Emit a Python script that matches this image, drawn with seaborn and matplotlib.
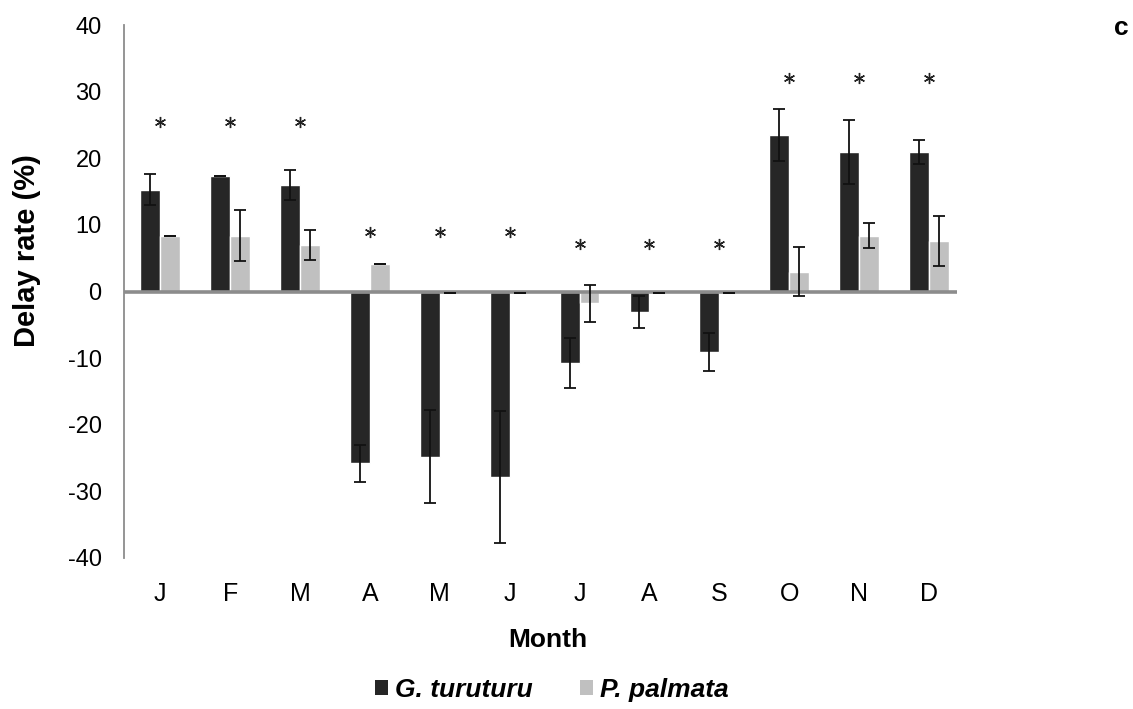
import pandas as pd
import matplotlib
matplotlib.use("Agg")
import matplotlib.pyplot as plt
import seaborn as sns
from matplotlib.patches import Patch

# monthly delay rate (%) with SE
months = ["Jan", "Feb", "Mar", "Apr", "May", "Jun", "Jul", "Aug", "Sep", "Oct", "Nov", "Dec"]
month_labels = ["J", "F", "M", "A", "M", "J", "J", "A", "S", "O", "N", "D"]
species = ["G. turuturu", "P. palmata"]
gt_rate = [15.3, 17.3, 16.0, -25.8, -24.8, -27.9, -10.7, -3.1, -9.1, 23.5, 21.0, 21.0]
gt_err = [2.35, 0.0, 2.3, 2.75, 6.95, 9.9, 3.75, 2.4, 2.85, 3.95, 4.8, 1.8]
pp_rate = [8.4, 8.4, 7.0, 4.2, -0.2, -0.2, -1.8, -0.2, -0.2, 3.0, 8.4, 7.6]
pp_err = [0.0, 3.8, 2.2, 0.0, 0.0, 0.0, 2.85, 0.0, 0.0, 3.7, 1.9, 3.7]
star_y = [25.4, 25.4, 25.4, 9.0, 9.0, 9.0, 7.1, 7.1, 7.1, 32.1, 32.1, 32.1]
yticks = [-40, -30, -20, -10, 0, 10, 20, 30, 40]

df = pd.DataFrame({
    "month": months * 2,
    "species": [species[0]] * 12 + [species[1]] * 12,
    "rate": gt_rate + pp_rate,
    "err": gt_err + pp_err,
})

sns.set_style("white")
plt.rcParams['font.family'] = ['Liberation Sans', 'DejaVu Sans']
plt.rcParams['text.color'] = 'black'
plt.rcParams['xtick.color'] = 'black'
plt.rcParams['ytick.color'] = 'black'

colors = {"G. turuturu": "#262626", "P. palmata": "#c0c0c0"}
fig = plt.figure(figsize=(11.33, 7.09), dpi=100)
ax = fig.add_axes([0.1094, 0.2130, 0.7352, 0.7517])

sns.barplot(data=df, x="month", y="rate", hue="species", order=months,
            hue_order=species, palette=colors, width=0.57, errorbar=None,
            saturation=1, legend=False, ax=ax)

# error bars on each bar
for cont, sp in zip(ax.containers, species):
    sub = df[df["species"] == sp].set_index("month").loc[months]
    xs = [b.get_x() + b.get_width() / 2 for b in cont]
    ax.errorbar(xs, sub["rate"], yerr=sub["err"], fmt="none", ecolor="#111111",
                elinewidth=1.3, capsize=4.5, capthick=1.3, zorder=3)

# significance asterisks
ax.plot(range(12), star_y, linestyle="none", marker=(6, 2, 0), markersize=8,
        markeredgewidth=1.0, color="#222222")

ax.axhline(0, color="#8c8c8c", lw=2.6, zorder=2)
ax.set_xlim(-0.52, 11.40)
ax.set_ylim(-40, 40)
ax.set_yticks(yticks)
ax.set_yticklabels([str(v) for v in yticks], fontsize=17)
ax.set_xticks(range(12))
ax.set_xticklabels(month_labels, fontsize=18)
ax.tick_params(axis="x", length=0, pad=17, labelcolor="black")
ax.tick_params(axis="y", length=6, width=1.3, color="#8c8c8c", pad=10,
               direction="out", labelcolor="black")
for s in ["top", "right", "bottom"]:
    ax.spines[s].set_visible(False)
ax.spines["left"].set_color("#8c8c8c")
ax.spines["left"].set_linewidth(1.3)
ax.set_xlabel("")
ax.set_ylabel("")

fig.text(0.024, 0.646, "Delay rate (%)", rotation=90, ha="center", va="center",
         fontsize=21, fontweight="bold")
fig.text(0.4836, 0.097, "Month", ha="center", va="center", fontsize=19, fontweight="bold")
fig.text(0.990, 0.960, "c", ha="center", va="center", fontsize=19, fontweight="bold")

handles = [Patch(facecolor=colors[s], edgecolor="none") for s in species]
leg = fig.legend(handles, species, loc="center", bbox_to_anchor=(0.487, 0.027), ncol=2,
                 frameon=False, handlelength=0.5, handleheight=0.5, handletextpad=0.25,
                 columnspacing=1.8, prop={"size": 19, "weight": "bold", "style": "italic"})

fig.savefig("out.png", dpi=100)
